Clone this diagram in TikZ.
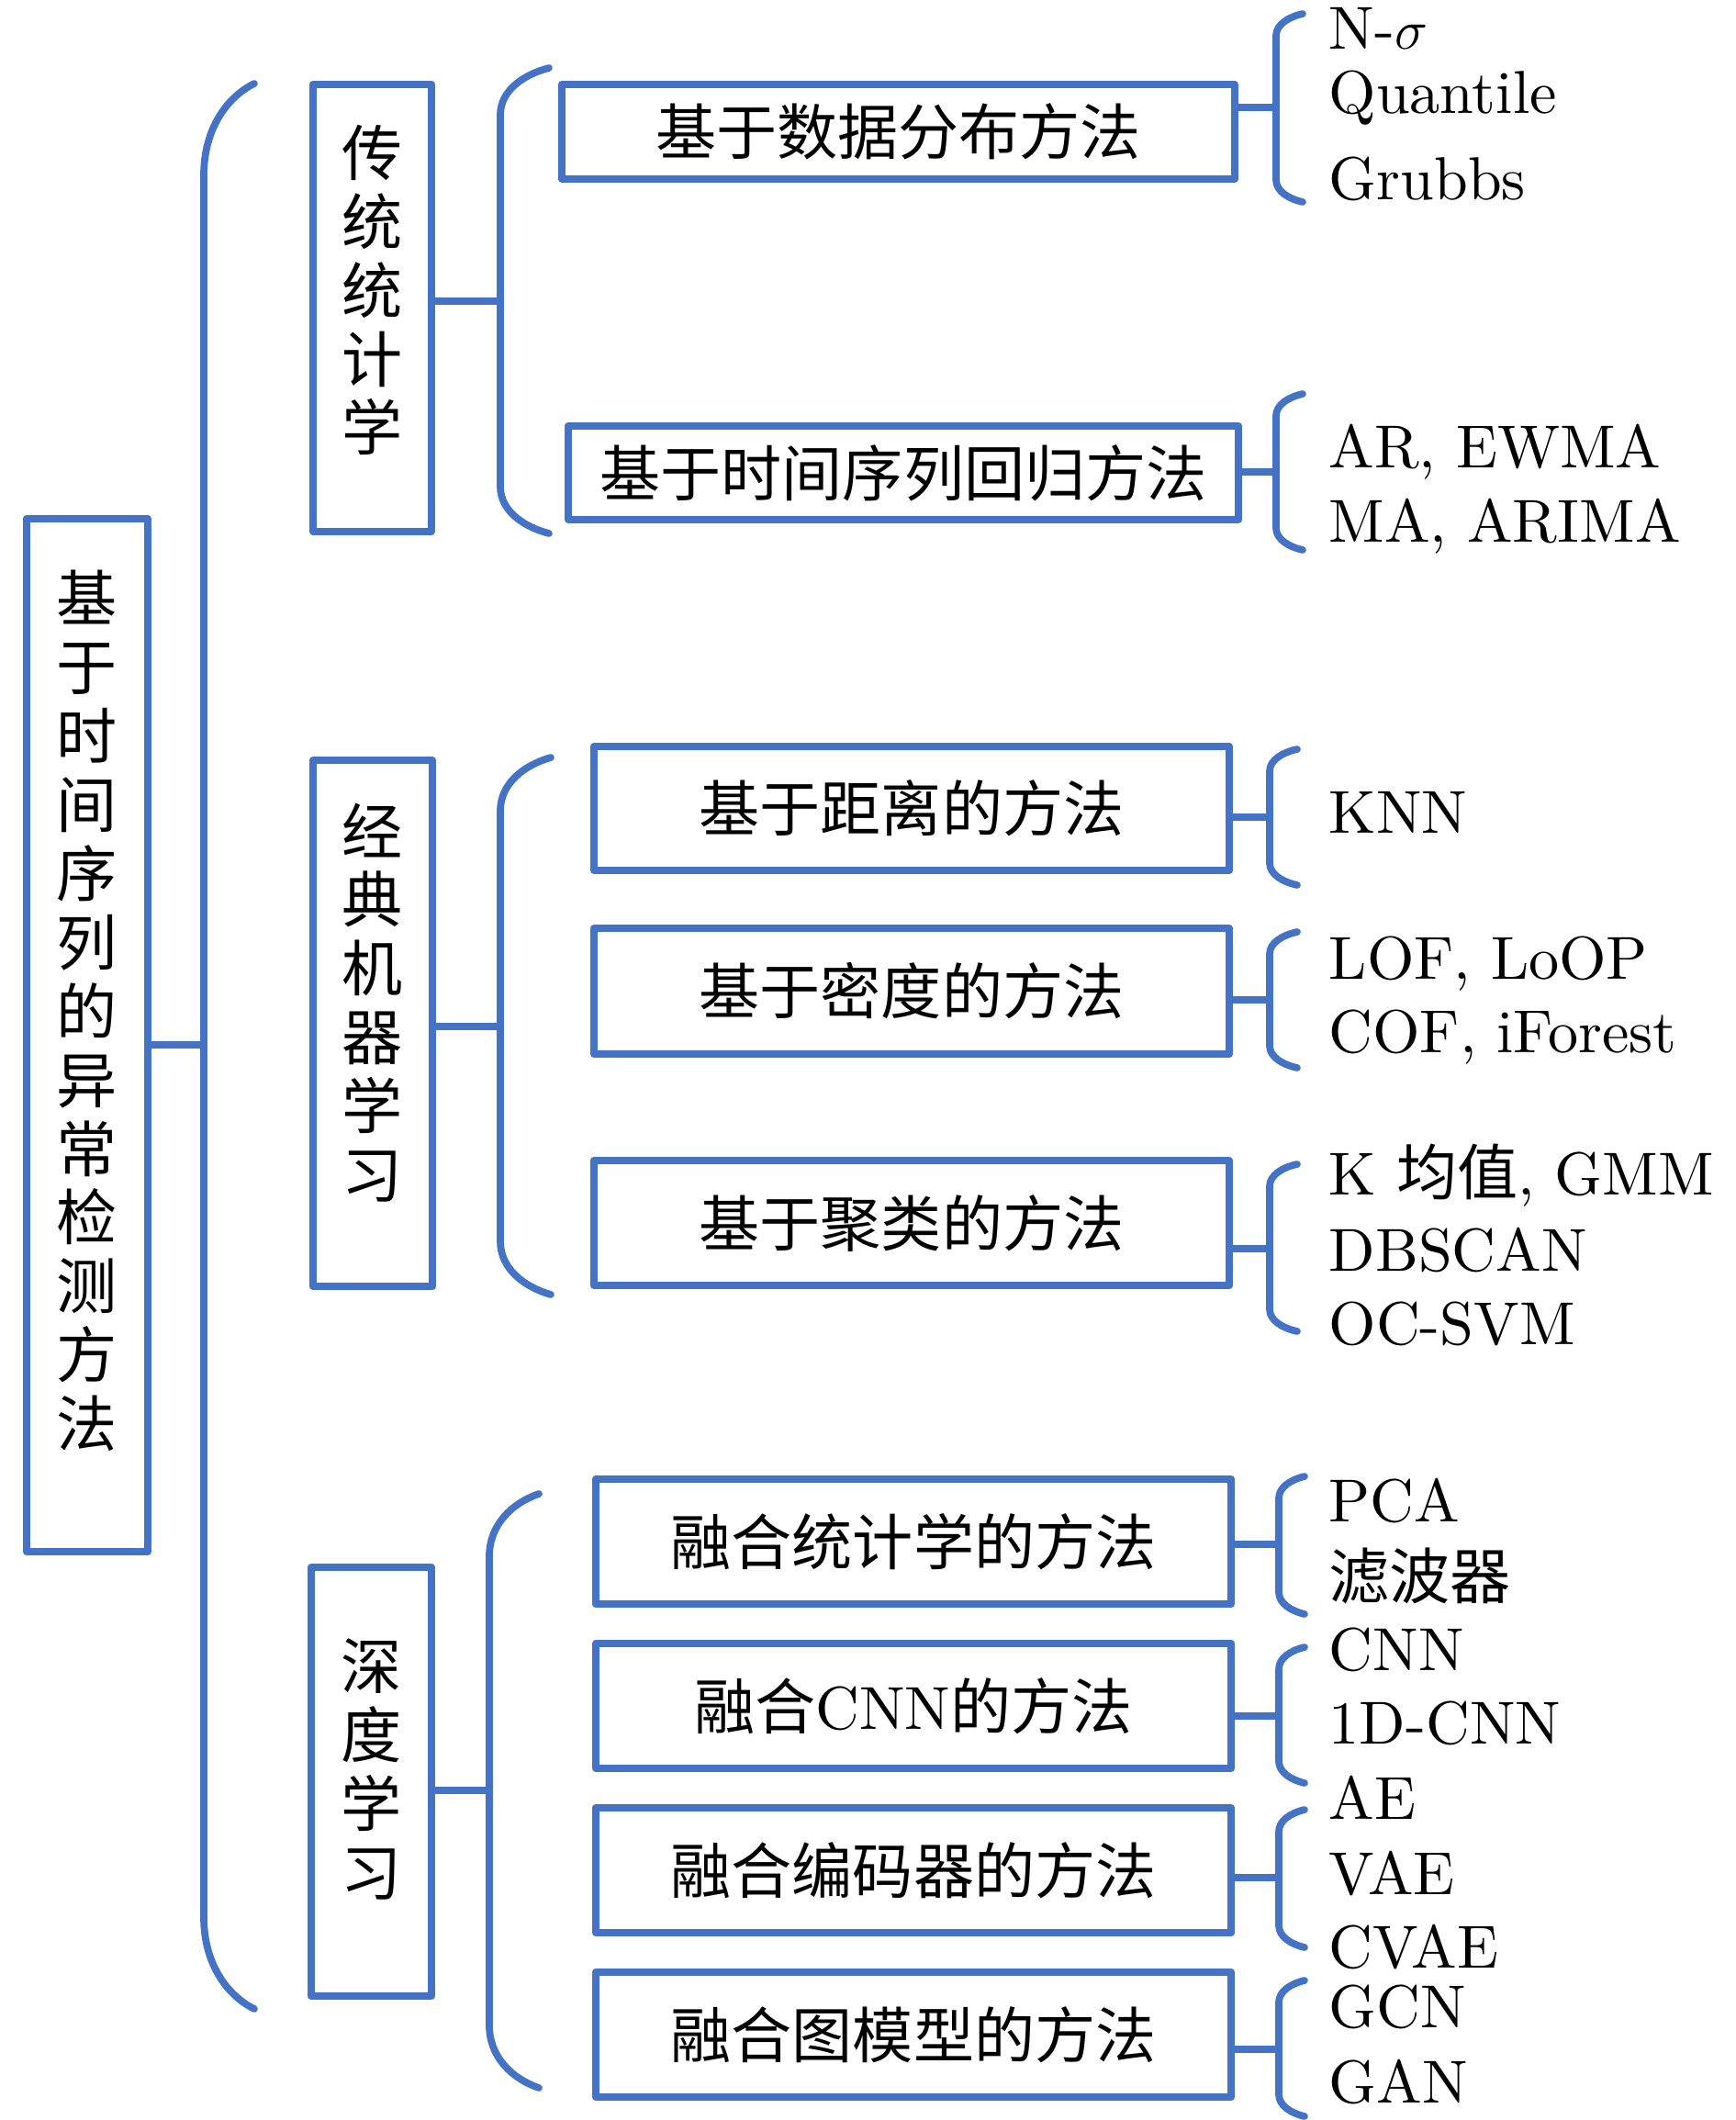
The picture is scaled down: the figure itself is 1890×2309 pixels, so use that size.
\documentclass[tikz,border=0pt]{standalone}
\usepackage{fontspec}
\setmainfont{lmroman10-regular.otf}[ItalicFont=lmroman10-italic.otf, BoldFont=lmroman10-bold.otf]
\newfontfamily\cjk{Noto Sans CJK SC}
\definecolor{ofblue}{RGB}{68,114,196}
\tikzset{
	blk/.style={draw=ofblue, line width=2.3pt, line join=round, inner sep=0pt, align=center, font=\cjk\fontsize{18.8}{21.3}\selectfont},
	vtxt/.style={text depth=#1},
	brk/.style={draw=ofblue, line width=2.2pt, line cap=round},
	leaf/.style={anchor=base west, inner sep=0pt, font=\fontsize{18.8}{21}\selectfont},
}
% #1 x of the stem, #2 x of the tips, #3 top, #4 bottom, #5 bend
\newcommand{\brak}[5]{%
	\draw[brk] (#2,#3) .. controls ({#1+0.45*(#2-#1)},{#3+0.15*#5}) and (#1,{#3+0.5*#5}) .. (#1,{#3+#5})
		-- (#1,{#4-#5}) .. controls (#1,{#4-0.5*#5}) and ({#1+0.45*(#2-#1)},{#4-0.15*#5}) .. (#2,#4);}
\begin{document}
\begin{tikzpicture}[x=0.01cm,y=-0.01cm]
	\useasboundingbox (0,0) rectangle (1890,2309);
	% root
	\node[blk, vtxt=0.58cm, minimum width=1.32cm, minimum height=11.25cm] (root) at (95,1127.5) {基\\于\\时\\间\\序\\列\\的\\异\\常\\检\\测\\方\\法};
	% three families
	\node[blk, vtxt=0.44cm, minimum width=1.29cm, minimum height=4.87cm] (stat) at (405.5,335.5) {传\\统\\统\\计\\学};
	\node[blk, vtxt=0.5cm, minimum width=1.30cm, minimum height=5.73cm] (ml) at (406,1114.5) {经\\典\\机\\器\\学\\习};
	\node[blk, vtxt=0.32cm, minimum width=1.31cm, minimum height=4.67cm] (dl) at (404.5,1940.5) {深\\度\\学\\习};
	% methods
	\node[blk, minimum width=7.33cm, minimum height=1.03cm] (dist) at (978.5,143.5) {基于数据分布方法};
	\node[blk, minimum width=7.30cm, minimum height=1.02cm] (reg) at (984,515) {基于时间序列回归方法};
	\node[blk, minimum width=6.92cm, minimum height=1.35cm] (knn) at (993,880.5) {基于距离的方法};
	\node[blk, minimum width=6.92cm, minimum height=1.37cm] (dens) at (993,1079.5) {基于密度的方法};
	\node[blk, minimum width=6.92cm, minimum height=1.36cm] (clus) at (993,1332) {基于聚类的方法};
	\node[blk, minimum width=6.92cm, minimum height=1.36cm] (fstat) at (995,1679) {融合统计学的方法};
	\node[blk, minimum width=6.92cm, minimum height=1.36cm] (fcnn) at (995,1858) {融合{\rmfamily CNN}的方法};
	\node[blk, minimum width=6.92cm, minimum height=1.36cm] (fenc) at (995,2037) {融合编码器的方法};
	\node[blk, minimum width=6.92cm, minimum height=1.36cm] (fgraph) at (995,2216) {融合图模型的方法};
	% brackets
	\brak{222}{277}{91}{2188}{100}
	\brak{545}{598}{74}{581}{51}
	\brak{545}{600}{825}{1410}{58}
	\brak{533}{587}{1627}{2274}{68}
	\brak{1390}{1419}{15}{220}{24}
	\brak{1390}{1419}{429}{599}{24}
	\brak{1383}{1413}{816}{964}{24}
	\brak{1383}{1413}{1015}{1163}{24}
	\brak{1383}{1413}{1268}{1450}{24}
	\brak{1393}{1421}{1608}{1758}{24}
	\brak{1393}{1421}{1794}{1942}{24}
	\brak{1393}{1421}{1971}{2121}{24}
	\brak{1393}{1421}{2157}{2305}{24}
	% connectors
	\coordinate (rootm) at (222,1138);
	\coordinate (statm) at (545,328);
	\coordinate (mlm) at (545,1118);
	\coordinate (dlm) at (533,1950);
	\coordinate (distm) at (1390,117);
	\coordinate (regm) at (1390,514);
	\coordinate (knnm) at (1383,890);
	\coordinate (densm) at (1383,1089);
	\coordinate (clusm) at (1383,1360);
	\coordinate (fstatm) at (1393,1682);
	\coordinate (fcnnm) at (1393,1869);
	\coordinate (fencm) at (1393,2045);
	\coordinate (fgraphm) at (1393,2232);
	\foreach \n in {root,stat,ml,dl,dist,reg,knn,dens,clus,fstat,fcnn,fenc,fgraph}
		\draw[brk] (\n.east |- \n m) -- (\n m);
	% leaves
	\node[leaf] (nsig) at (1447,54) {N-$\sigma$};
	\node[leaf] (quant) at (1447,124) {Quantile};
	\node[leaf] (grubbs) at (1447,218) {Grubbs};
	\node[leaf] (ar) at (1447,509) {AR, EWMA};
	\node[leaf] (ma) at (1447,590) {MA, ARIMA};
	\node[leaf] (knnl) at (1447,907) {KNN};
	\node[leaf] (lof) at (1447,1066) {LOF, LoOP};
	\node[leaf] (cof) at (1447,1146) {COF, iForest};
	\node[leaf] (kmeans) at (1447,1301) {K {\cjk 均值}, GMM};
	\node[leaf] (dbscan) at (1447,1384) {DBSCAN};
	\node[leaf] (ocsvm) at (1447,1464) {OC-SVM};
	\node[leaf] (pca) at (1447,1657) {PCA};
	\node[leaf] (filt) at (1447,1741) {\cjk 滤波器};
	\node[leaf] (cnn) at (1447,1819) {CNN};
	\node[leaf] (cnn1d) at (1447,1899) {1D-CNN};
	\node[leaf] (ae) at (1447,1981) {AE};
	\node[leaf] (vae) at (1447,2063) {VAE};
	\node[leaf] (cvae) at (1447,2143) {CVAE};
	\node[leaf] (gcn) at (1447,2208) {GCN};
	\node[leaf] (gan) at (1447,2290) {GAN};
\end{tikzpicture}
\end{document}
